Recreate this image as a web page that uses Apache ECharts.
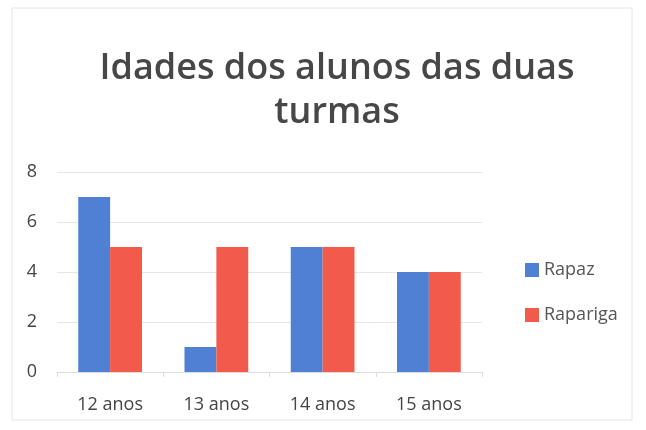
<!DOCTYPE html>
<html>
<head>
<meta charset="utf-8">
<script src="https://cdn.jsdelivr.net/npm/echarts@6/dist/echarts.min.js"></script>
<style>
  html, body { margin: 0; padding: 0; background: #fff; }
  #chart { width: 646px; height: 430px; }
</style>
</head>
<body>
<div id="chart"></div>
<script>
// dados
var categorias = ['12 anos', '13 anos', '14 anos', '15 anos'];
var rapaz = [7, 1, 5, 4];
var rapariga = [5, 5, 5, 4];
var ticksY = [0, 2, 4, 6, 8];

var myChart = echarts.init(document.getElementById('chart'));

var option = {
  backgroundColor: '#fff',
  title: {
    text: 'Idades dos alunos das duas\nturmas',
    left: 332,
    textAlign: 'center',
    top: 42,
    textStyle: {
      fontFamily: 'Open Sans',
      fontSize: 36,
      fontWeight: 600,
      color: '#474747',
      lineHeight: 44
    }
  },
  legend: {
    orient: 'vertical',
    left: 520,
    top: 256,
    itemWidth: 14,
    itemHeight: 14,
    itemGap: 27,
    icon: 'rect',
    textStyle: { fontFamily: 'Open Sans', fontSize: 18, color: '#555' },
    data: ['Rapaz', 'Rapariga']
  },
  grid: {
    left: 57,
    right: 164,
    top: 172,
    bottom: 58
  },
  graphic: [{
    type: 'rect',
    shape: { x: 12, y: 8, width: 620, height: 412 },
    style: { fill: 'none', stroke: '#e4e4e4', lineWidth: 1 },
    silent: true
  }],
  xAxis: {
    type: 'category',
    data: categorias,
    axisLine: { lineStyle: { color: '#ddd' } },
    axisTick: { show: true, lineStyle: { color: '#ddd' } },
    axisLabel: { fontFamily: 'Open Sans', fontSize: 18, color: '#444', margin: 24 }
  },
  yAxis: {
    type: 'value',
    min: ticksY[0],
    max: ticksY[ticksY.length - 1],
    interval: 2,
    axisLine: { show: false },
    axisTick: { show: false },
    axisLabel: { fontFamily: 'Open Sans', fontSize: 18, color: '#444', margin: 20 },
    splitLine: { lineStyle: { color: '#e6e6e6' } }
  },
  series: [{
    name: 'Rapaz',
    type: 'bar',
    data: rapaz,
    barGap: '0%',
    barCategoryGap: '40%',
    itemStyle: { color: '#4f80d4' }
  }, {
    name: 'Rapariga',
    type: 'bar',
    data: rapariga,
    itemStyle: { color: '#f25a4c' }
  }]
};

myChart.setOption(option);
</script>
</body>
</html>
